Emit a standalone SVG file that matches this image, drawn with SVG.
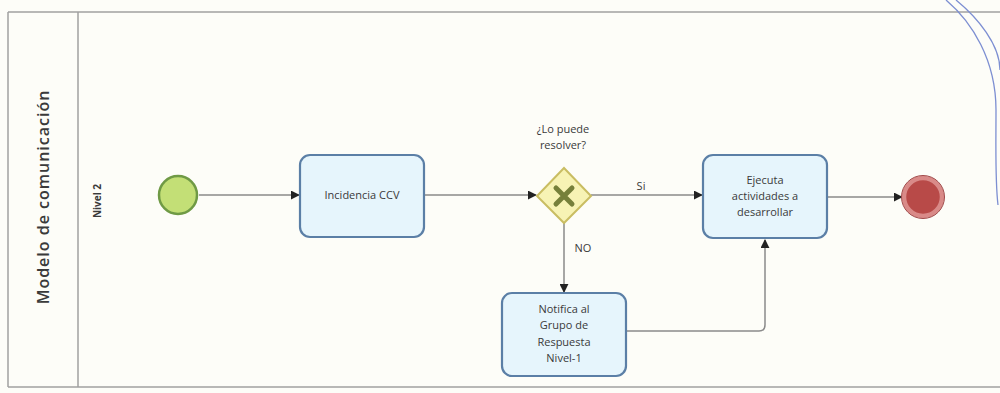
<svg xmlns="http://www.w3.org/2000/svg" width="1000" height="393" viewBox="0 0 1000 393">
<defs>
<style>
.t{font-family:"Open Sans","Noto Sans",sans-serif;font-size:11px;fill:#3a3a3a;text-anchor:middle}
.task{fill:#e6f5fc;stroke:#5b7fa6;stroke-width:2.2}
.line{fill:none;stroke:#8a8a8a;stroke-width:1.5}
.pool{fill:none;stroke:#a0a0a0;stroke-width:1.5}
</style>
<marker id="arr" viewBox="0 0 10 10" refX="9" refY="5" markerWidth="9" markerHeight="9" orient="auto" markerUnits="userSpaceOnUse">
<path d="M0,0 L10,5 L0,10 z" fill="#222"/>
</marker>
</defs>
<rect width="1000" height="393" fill="#fdfdf8"/>
<g id="pool">
<line class="pool" x1="8" y1="12" x2="1000" y2="12"/>
<line class="pool" x1="8" y1="387" x2="1000" y2="387"/>
<line class="pool" x1="8" y1="12" x2="8" y2="387"/>
<line class="pool" x1="78" y1="12" x2="78" y2="387"/>
<text transform="translate(49,197) rotate(-90)" style="font-family:'Open Sans','Noto Sans',sans-serif;font-size:16px;font-weight:600;letter-spacing:1px;fill:#3a3a3a;text-anchor:middle">Modelo de comunicación</text>
<text transform="translate(101,201) rotate(-90)" style="font-family:'Open Sans','Noto Sans',sans-serif;font-size:10px;font-weight:700;fill:#3a3a3a;text-anchor:middle">Nivel 2</text>
</g>
<g id="connectors">
<line class="line" x1="199" y1="195" x2="299" y2="195" marker-end="url(#arr)"/>
<line class="line" x1="424" y1="195" x2="536" y2="195" marker-end="url(#arr)"/>
<line class="line" x1="591" y1="195" x2="702" y2="195" marker-end="url(#arr)"/>
<line class="line" x1="828" y1="197" x2="902" y2="197" marker-end="url(#arr)"/>
<line class="line" x1="564" y1="223" x2="564" y2="292" marker-end="url(#arr)"/>
<path class="line" d="M627,331 H759 Q765,331 765,325 V240" marker-end="url(#arr)"/>
<text class="t" x="641" y="190">Si</text>
<text class="t" x="583" y="252">NO</text>
</g>
<g id="start">
<circle cx="178" cy="195" r="19" fill="#c3df76" stroke="#6f9a45" stroke-width="2.5"/>
</g>
<g id="task-incidencia">
<rect class="task" x="300" y="155" width="124" height="82" rx="10"/>
<text class="t" x="362" y="199">Incidencia CCV</text>
</g>
<g id="gateway">
<polygon points="564,168 591,196 564,223 537,196" fill="#f7f3b4" stroke="#c9bd62" stroke-width="2"/>
<path d="M556,188 L572,204 M572,188 L556,204" stroke="#76803a" stroke-width="5" stroke-linecap="round"/>
<text class="t" x="563" y="133">¿Lo puede</text>
<text class="t" x="563" y="149">resolver?</text>
</g>
<g id="task-ejecuta">
<rect class="task" x="703" y="155" width="124" height="83" rx="10"/>
<text class="t" x="765" y="184">Ejecuta</text>
<text class="t" x="765" y="200">actividades a</text>
<text class="t" x="765" y="216">desarrollar</text>
</g>
<g id="task-notifica">
<rect class="task" x="502" y="293" width="124" height="83" rx="10"/>
<text class="t" x="564" y="313">Notifica al</text>
<text class="t" x="564" y="329">Grupo de</text>
<text class="t" x="564" y="346">Respuesta</text>
<text class="t" x="564" y="362">Nivel-1</text>
</g>
<g id="end">
<circle cx="923" cy="197" r="19" fill="#b84a48" stroke="#d98a88" stroke-width="4.5"/>
<circle cx="923" cy="197" r="21.5" fill="none" stroke="#a04848" stroke-width="1"/>
</g>
<g id="pen-stroke" fill="none" stroke="#7d8fd2" stroke-width="1.3">
<path d="M946,0 C972,22 996,60 996,110 C996,150 995,180 998,205"/>
<path d="M956,0 C978,18 1000,45 1000,70"/>
</g>
</svg>
